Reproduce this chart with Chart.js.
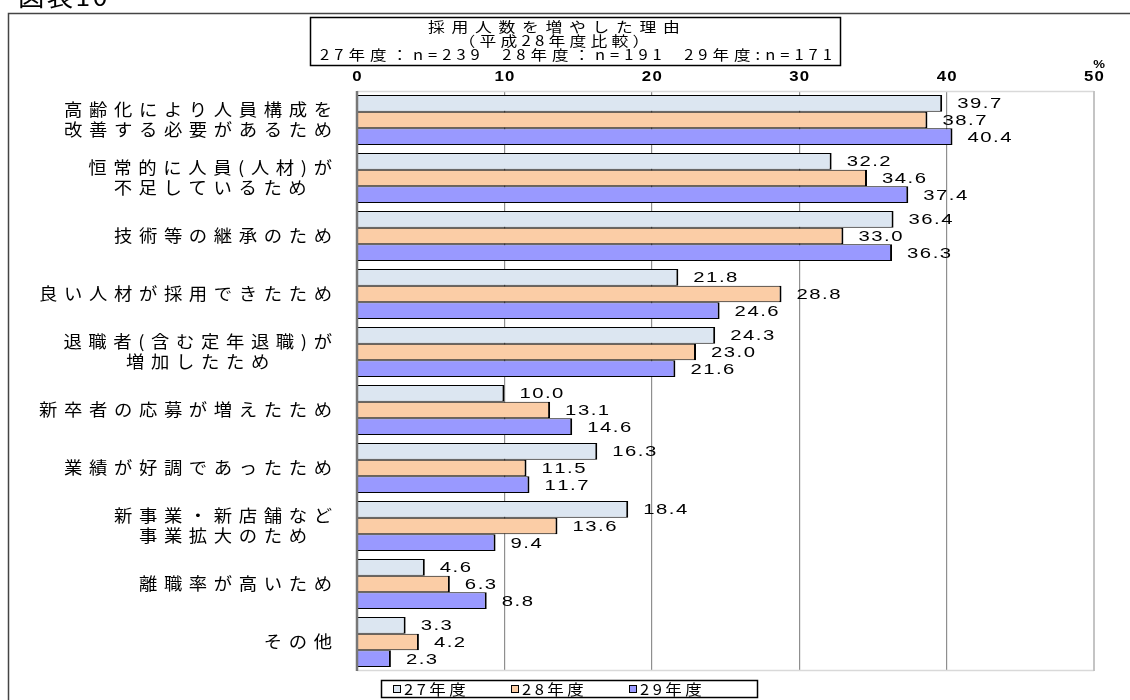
<!DOCTYPE html>
<html lang="ja">
<head>
<meta charset="utf-8">
<title>採用人数を増やした理由</title>
<script src="https://cdn.jsdelivr.net/npm/chart.js@4/dist/chart.umd.min.js"></script>
<style>
  html, body { margin: 0; padding: 0; background: #fff; }
  #wrap { width: 1130px; height: 700px; position: relative; }
  canvas { display: block; }
</style>
</head>
<body>
<div id="wrap"><canvas id="c" width="1130" height="700"></canvas></div>
<script>
// Reasons for hiring more staff, by survey year (percent of respondents)
const categories = [
  ['高齢化により人員構成を', '改善する必要があるため'],
  ['恒常的に人員(人材)が', '不足しているため'],
  ['技術等の継承のため'],
  ['良い人材が採用できたため'],
  ['退職者(含む定年退職)が', '増加したため'],
  ['新卒者の応募が増えたため'],
  ['業績が好調であったため'],
  ['新事業・新店舗など', '事業拡大のため'],
  ['離職率が高いため'],
  ['その他']
];
const seriesNames = ['27年度', '28年度', '29年度'];
const values27 = [39.7, 32.2, 36.4, 21.8, 24.3, 10.0, 16.3, 18.4, 4.6, 3.3];
const values28 = [38.7, 34.6, 33.0, 28.8, 23.0, 13.1, 11.5, 13.6, 6.3, 4.2];
const values29 = [40.4, 37.4, 36.3, 24.6, 21.6, 14.6, 11.7, 9.4, 8.8, 2.3];
const xTicks = [0, 10, 20, 30, 40, 50];
const titleLines = [
  '採用人数を増やした理由',
  '（平成28年度比較）',
  '27年度：n=239  28年度：n=191  29年度:n=171'
];
const figureLabel = '図表10';
const unitLabel = '%';

const seriesColors = ['#DCE6F1', '#FBCDA6', '#9999FF'];

const JP = '"Noto Sans CJK JP", "Noto Sans", sans-serif';
const NUM = '"Liberation Sans", Arial, sans-serif';

// Draws text one glyph at a time, stretched horizontally and with extra tracking.
function drawText(ctx, text, x, y, o) {
  const size = o.size || 14, sx = o.sx || 1, sp = o.sp || 0;
  ctx.save();
  ctx.font = `${o.weight || 'normal'} ${size}px ${o.family || JP}`;
  ctx.fillStyle = o.color || '#000';
  ctx.textBaseline = o.baseline || 'middle';
  ctx.textAlign = 'left';
  const chars = Array.from(text);
  const widths = chars.map(c => ctx.measureText(c).width * sx);
  const total = widths.reduce((a, b) => a + b, 0) + sp * Math.max(0, chars.length - 1);
  let cx = o.align === 'center' ? x - total / 2 : o.align === 'right' ? x - total : x;
  chars.forEach((c, i) => {
    ctx.save();
    ctx.translate(cx, y);
    ctx.scale(sx, 1);
    ctx.fillText(c, 0, 0);
    ctx.restore();
    cx += widths[i] + sp;
  });
  ctx.restore();
  return total;
}

function measure(ctx, text, o) {
  ctx.save();
  ctx.font = `${o.weight || 'normal'} ${o.size || 14}px ${o.family || JP}`;
  const chars = Array.from(text);
  const w = chars.reduce((a, c) => a + ctx.measureText(c).width * (o.sx || 1), 0)
    + (o.sp || 0) * Math.max(0, chars.length - 1);
  ctx.restore();
  return w;
}

const catFont = { size: 17, sx: 1.08, sp: 6.6, family: JP };
const valFont = { size: 14.5, sx: 1.4, sp: 1.5, family: NUM };
const tickFont = { size: 14, sx: 1.2, sp: 1.2, family: NUM, weight: 'bold' };

const decorations = {
  id: 'decorations',
  beforeDraw(chart) {
    const ctx = chart.ctx;
    ctx.save();
    ctx.fillStyle = '#fff';
    ctx.fillRect(0, 0, chart.width, chart.height);
    // outer frame
    ctx.strokeStyle = '#444';
    ctx.lineWidth = 1.5;
    ctx.beginPath();
    ctx.moveTo(8.5, 702);
    ctx.lineTo(8.5, 13.5);
    ctx.lineTo(1132, 13.5);
    ctx.stroke();
    ctx.restore();
    drawText(ctx, figureLabel, 18, 6, { size: 24, sx: 1.1, sp: 2.4, baseline: 'alphabetic' });
  },
  afterDatasetsDraw(chart) {
    const ctx = chart.ctx;
    const a = chart.chartArea;
    ctx.save();
    // plot frame
    ctx.strokeStyle = '#d9d9d9';
    ctx.lineWidth = 1.5;
    ctx.beginPath();
    ctx.moveTo(a.left, a.top + 0.5);
    ctx.lineTo(a.right, a.top + 0.5);
    ctx.moveTo(a.left, a.bottom - 0.5);
    ctx.lineTo(a.right, a.bottom - 0.5);
    ctx.stroke();
    ctx.strokeStyle = '#c4c4c4';
    ctx.lineWidth = 2;
    ctx.beginPath();
    ctx.moveTo(a.right, a.top);
    ctx.lineTo(a.right, a.bottom);
    ctx.stroke();
    ctx.strokeStyle = '#777';
    ctx.lineWidth = 2.5;
    ctx.beginPath();
    ctx.moveTo(a.left, a.top);
    ctx.lineTo(a.left, a.bottom);
    ctx.stroke();
    ctx.restore();

    // value labels at the end of each bar
    chart.data.datasets.forEach((ds, di) => {
      const meta = chart.getDatasetMeta(di);
      meta.data.forEach((bar, i) => {
        drawText(ctx, ds.data[i].toFixed(1), bar.x + 15, bar.y + 1, valFont);
      });
    });
  },
  afterDraw(chart) {
    const ctx = chart.ctx;
    const xs = chart.scales.x, ys = chart.scales.y;

    // x tick labels above the plot
    xTicks.forEach(v => {
      drawText(ctx, String(v), xs.getPixelForValue(v), 77, Object.assign({ align: 'center' }, tickFont));
    });
    drawText(ctx, unitLabel, 1099, 65, { size: 11, sx: 1.2, family: NUM, weight: 'bold', align: 'center' });

    // category labels: block right-aligned, lines centred within the block
    const right = 332;
    chart.data.labels.forEach((lines, i) => {
      const cy = ys.getPixelForValue(i);
      const widths = lines.map(l => measure(ctx, l, catFont));
      const bw = Math.max(...widths);
      const lh = 20;
      lines.forEach((l, k) => {
        const y = cy + (k - (lines.length - 1) / 2) * lh;
        drawText(ctx, l, right - bw / 2, y, Object.assign({ align: 'center' }, catFont));
      });
    });

    // title box
    ctx.save();
    ctx.strokeStyle = '#000';
    ctx.lineWidth = 1.5;
    ctx.strokeRect(310.5, 17.5, 530, 48);
    ctx.restore();
    drawText(ctx, titleLines[0], 554, 27, { size: 14, sx: 1.2, sp: 6.7, align: 'center' });
    drawText(ctx, titleLines[1], 554, 41, { size: 14, sx: 1.2, sp: 4.2, align: 'center' });
    drawText(ctx, titleLines[2], 576, 54.5, { size: 14, sx: 1.18, sp: 5.0, align: 'center' });

    // legend box
    ctx.save();
    ctx.strokeStyle = '#000';
    ctx.lineWidth = 1.5;
    ctx.strokeRect(381.5, 680.5, 376, 17);
    ctx.restore();
    const starts = [393, 511, 629];
    chart.data.datasets.forEach((ds, di) => {
      const x0 = starts[di];
      ctx.save();
      ctx.fillStyle = ds.backgroundColor;
      ctx.fillRect(x0, 685, 8, 8);
      ctx.strokeStyle = '#000';
      ctx.lineWidth = 1;
      ctx.strokeRect(x0 + 0.5, 685.5, 7, 7);
      ctx.restore();
      drawText(ctx, ds.label, x0 + 11, 689.5, { size: 15, sx: 1.1, sp: 3.5 });
    });
  }
};

new Chart(document.getElementById('c'), {
  type: 'bar',
  data: {
    labels: categories,
    datasets: [values27, values28, values29].map((vals, i) => ({
      label: seriesNames[i],
      data: vals,
      backgroundColor: seriesColors[i],
      borderColor: '#000',
      borderWidth: { top: 1, bottom: 1, left: 0, right: 2 },
      borderSkipped: false,
      categoryPercentage: 0.86,
      barPercentage: 1.0
    }))
  },
  options: {
    indexAxis: 'y',
    responsive: false,
    animation: false,
    devicePixelRatio: 1,
    layout: { padding: { left: 357, right: 36, top: 91, bottom: 29 } },
    plugins: { legend: { display: false }, title: { display: false }, tooltip: { enabled: false } },
    scales: {
      x: {
        type: 'linear',
        position: 'top',
        min: 0,
        max: 50,
        afterBuildTicks(scale) { scale.ticks = xTicks.map(v => ({ value: v })); },
        afterFit(scale) { scale.height = 0; },
        ticks: { display: false },
        border: { display: false },
        grid: {
          drawTicks: false,
          lineWidth: 1.2,
          color: ctx => (ctx.tick && (ctx.tick.value === 0 || ctx.tick.value === 50)) ? 'rgba(0,0,0,0)' : '#8f8f8f'
        }
      },
      y: {
        afterFit(scale) { scale.width = 0; },
        ticks: { display: false },
        border: { display: false },
        grid: { display: false, drawTicks: false }
      }
    }
  },
  plugins: [decorations]
});
</script>
</body>
</html>
